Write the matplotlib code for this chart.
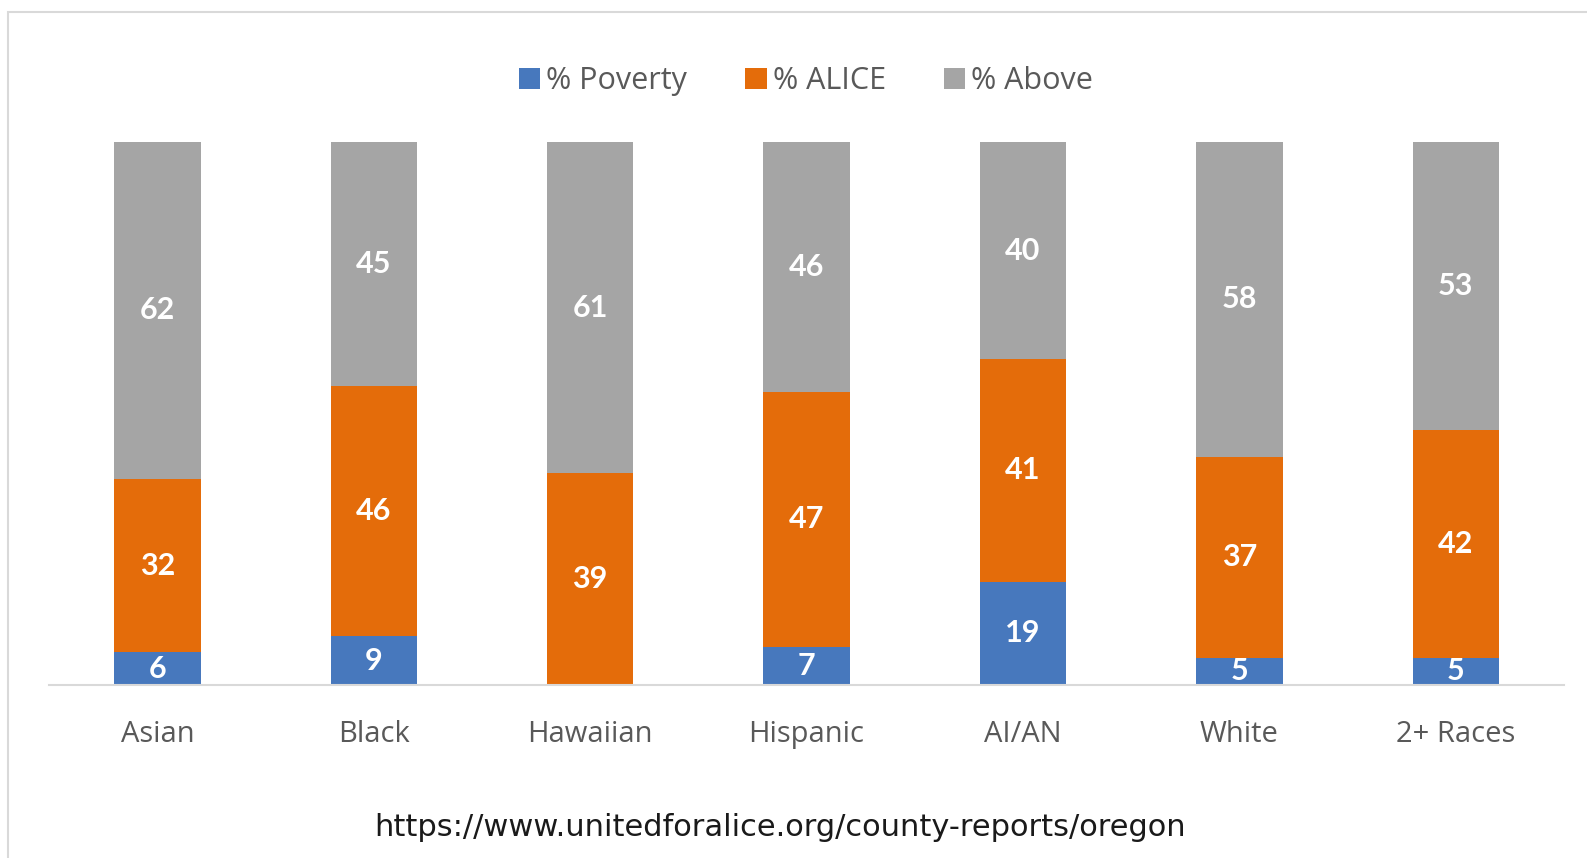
import matplotlib.pyplot as plt
from matplotlib.patches import Patch, Rectangle
import numpy as np

# Dados (Oregon, ALICE por raça/etnia)
categories = ["Asian", "Black", "Hawaiian", "Hispanic", "AI/AN", "White", "2+ Races"]
poverty = [6, 9, 0, 7, 19, 5, 5]
alice = [32, 46, 39, 47, 41, 37, 42]
above = [62, 45, 61, 46, 40, 58, 53]
series_names = ["% Poverty", "% ALICE", "% Above"]
source_url = "https://www.unitedforalice.org/county-reports/oregon"

colors = ["#4778bd", "#e46c0a", "#a5a5a5"]
text_gray = "#595959"

fig = plt.figure(figsize=(15.87, 8.58), dpi=100)
ax = fig.add_axes([0.031, 0.2016, 0.9545, 0.633])

# moldura clara do gráfico
fig.patches.append(Rectangle((8 / 1587, -0.05), 1.2, 1 - 12 / 858 + 0.05,
                             transform=fig.transFigure, fill=False,
                             edgecolor="#d9d9d9", linewidth=1.5))

x = np.arange(len(categories))
width = 0.40
bottom = np.zeros(len(categories))
for vals, col in zip([poverty, alice, above], colors):
    vals = np.array(vals, dtype=float)
    ax.bar(x, vals, width, bottom=bottom, color=col)
    for xi, b, v in zip(x, bottom, vals):
        if v > 0:
            ax.text(xi, b + v / 2, f"{int(v)}", ha="center", va="center",
                    color="white", fontsize=22, fontweight="bold", family="Lato")
    bottom += vals

ax.set_xlim(-0.5, len(categories) - 0.5)
ax.set_ylim(0, 100)
ax.set_yticks([])
ax.set_xticks(x)
ax.set_xticklabels(categories, fontsize=21, color=text_gray, family="Open Sans")
ax.tick_params(axis="x", length=0, pad=25)
for s in ["top", "right", "left"]:
    ax.spines[s].set_visible(False)
ax.spines["bottom"].set_color("#d9d9d9")
ax.spines["bottom"].set_linewidth(1.5)

handles = [Patch(facecolor=c, label=n) for c, n in zip(colors, series_names)]
fig.legend(handles=handles, loc="center", bbox_to_anchor=(806 / 1587, 1 - 81 / 858),
           ncol=3, frameon=False, handlelength=0.7, handleheight=0.7,
           handletextpad=0.2, columnspacing=1.9,
           prop={"family": "Open Sans", "size": 22}, labelcolor=text_gray)

fig.text(780 / 1587, 1 - 828 / 858, source_url, ha="center", va="center",
         fontsize=22, color="#1a1a1a", family="DejaVu Sans")

fig.savefig("out.png", dpi=100)
